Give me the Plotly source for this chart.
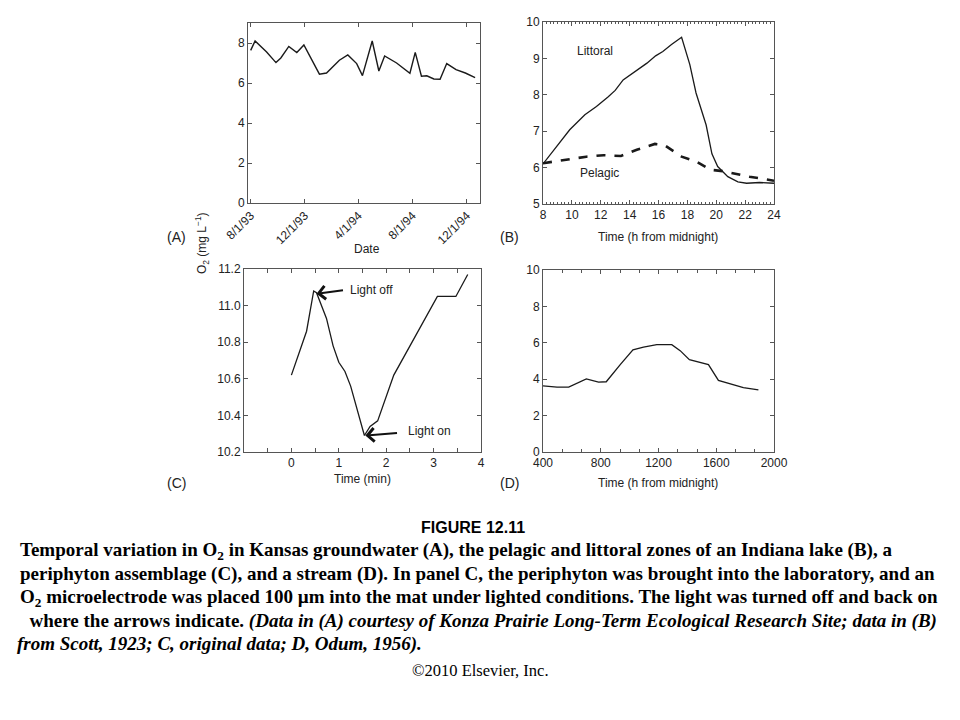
import plotly.graph_objects as go

# ---------------- data ----------------
# Panel A: Kansas groundwater O2
a_dates = ["1993-08-01", "1993-08-11", "1993-09-06", "1993-09-27", "1993-10-08", "1993-10-26",
           "1993-11-13", "1993-11-29", "1994-01-03", "1994-01-19", "1994-02-17", "1994-03-08",
           "1994-03-28", "1994-04-10", "1994-05-02", "1994-05-17", "1994-05-30", "1994-06-26",
           "1994-07-26", "1994-08-07", "1994-08-21", "1994-09-02", "1994-09-18", "1994-10-02",
           "1994-10-17", "1994-11-07", "1994-11-28", "1994-12-20"]
a_o2 = [7.63, 8.10, 7.55, 7.02, 7.25, 7.83, 7.52, 7.90, 6.44, 6.50, 7.14, 7.40,
        6.97, 6.37, 8.10, 6.60, 7.35, 7.00, 6.49, 7.53, 6.34, 6.36, 6.20, 6.19,
        6.97, 6.67, 6.50, 6.27]
a_tickvals = ["1993-08-01", "1993-12-01", "1994-04-01", "1994-08-01", "1994-12-01"]
a_ticktext = ["8/1/93", "12/1/93", "4/1/94", "8/1/94", "12/1/94"]

# Panel B: Indiana lake
b_lit_t = [8.0, 8.92, 9.85, 10.9, 11.7, 12.5, 13.0, 13.55, 14.5, 15.2, 15.8, 16.3, 16.9, 17.6,
           18.17, 18.6, 19.3, 19.7, 20.1, 20.8, 21.5, 22.1, 23.0, 24.0]
b_lit_o2 = [6.10, 6.58, 7.04, 7.45, 7.68, 7.94, 8.12, 8.41, 8.67, 8.87, 9.07, 9.19, 9.38, 9.58,
            8.83, 8.05, 7.17, 6.38, 6.03, 5.75, 5.61, 5.57, 5.59, 5.57]
b_pel_t = [8.0, 9.4, 11.0, 12.2, 13.4, 14.5, 15.75, 16.4, 17.6, 18.6, 19.6, 20.5, 22.3, 24.0]
b_pel_o2 = [6.12, 6.21, 6.30, 6.34, 6.32, 6.49, 6.65, 6.62, 6.30, 6.17, 5.94, 5.90, 5.75, 5.64]

# Panel C: periphyton
c_t = [0.0, 0.32, 0.47, 0.53, 0.74, 0.88, 1.0, 1.13, 1.25, 1.54, 1.66, 1.82, 2.16, 2.58,
       2.79, 3.08, 3.47, 3.72]
c_o2 = [10.62, 10.86, 11.08, 11.07, 10.93, 10.78, 10.69, 10.64, 10.56, 10.29, 10.34, 10.37,
        10.62, 10.82, 10.92, 11.05, 11.05, 11.17]

# Panel D: stream
d_t = [400, 497, 578, 700, 785, 838, 935, 1023, 1096, 1188, 1292, 1350, 1414, 1477, 1546,
       1615, 1696, 1788, 1892]
d_o2 = [3.63, 3.56, 3.56, 4.02, 3.84, 3.86, 4.80, 5.61, 5.76, 5.90, 5.90, 5.57, 5.07, 4.94,
        4.80, 3.93, 3.75, 3.54, 3.41]

W, H = 960, 720
OFF = 8  # page body margin


def px(x):
    return (x - OFF) / W


def py(y):
    return 1 - (y - OFF) / H


LINE = "#1a1a1a"
TICKFONT = dict(family="Liberation Sans, Arial", size=12, color="#222")

fig = go.Figure()
fig.add_trace(go.Scatter(x=a_dates, y=a_o2, mode="lines", line=dict(color=LINE, width=1.4),
                         xaxis="x", yaxis="y"))
fig.add_trace(go.Scatter(x=b_lit_t, y=b_lit_o2, mode="lines", line=dict(color=LINE, width=1.3),
                         xaxis="x2", yaxis="y2"))
fig.add_trace(go.Scatter(x=b_pel_t, y=b_pel_o2, mode="lines",
                         line=dict(color=LINE, width=2.6, dash="dash"),
                         xaxis="x2", yaxis="y2"))
fig.add_trace(go.Scatter(x=c_t, y=c_o2, mode="lines", line=dict(color=LINE, width=1.3),
                         xaxis="x3", yaxis="y3"))
fig.add_trace(go.Scatter(x=d_t, y=d_o2, mode="lines", line=dict(color=LINE, width=1.3),
                         xaxis="x4", yaxis="y4"))

base = dict(showline=True, linecolor="#555", linewidth=1, mirror="allticks", ticks="inside",
            ticklen=4, tickcolor="#555", showgrid=False, zeroline=False, tickfont=TICKFONT,
            automargin=False)

fig.update_layout(
    width=W, height=H, margin=dict(l=0, r=0, t=0, b=0, pad=0, autoexpand=False),
    showlegend=False,
    paper_bgcolor="white", plot_bgcolor="white",
    xaxis=dict(base, domain=[px(248), px(480)], anchor="y", type="date",
               range=["1993-07-26", "1994-12-31"], tickvals=a_tickvals, ticktext=a_ticktext,
               tickangle=-45),
    yaxis=dict(base, domain=[py(203), py(23)], anchor="x", range=[0, 9], dtick=2),
    xaxis2=dict(base, domain=[px(543), px(774)], anchor="y2", range=[8, 24], dtick=2,
                minor=dict(dtick=0.25, ticks="inside", ticklen=2, tickcolor="#555")),
    yaxis2=dict(base, domain=[py(204), py(22)], anchor="x2", range=[5, 10], dtick=1),
    xaxis3=dict(base, domain=[px(244), px(481)], anchor="y3", range=[-1, 4],
                tickvals=[0, 1, 2, 3, 4],
                minor=dict(dtick=0.5, tick0=0, ticks="inside", ticklen=4, tickcolor="#555")),
    yaxis3=dict(base, domain=[py(452), py(269)], anchor="x3", range=[10.2, 11.2], dtick=0.2,
                tickformat=".1f"),
    xaxis4=dict(base, domain=[px(543), px(774)], anchor="y4", range=[400, 2000], dtick=400,
                tick0=400,
                minor=dict(dtick=400 / 3, tick0=400, ticks="inside", ticklen=3, tickcolor="#555")),
    yaxis4=dict(base, domain=[py(452), py(270)], anchor="x4", range=[0, 10], dtick=2),
)

ann = []
SANS = "Liberation Sans, Arial"


def text(x, y, t, size=12, family=SANS, xanchor="center", color="#222", angle=0):
    ann.append(dict(x=px(x), y=py(y), xref="paper", yref="paper", text=t, showarrow=False,
                    font=dict(family=family, size=size, color=color), xanchor=xanchor,
                    yanchor="middle", textangle=angle))


# panel labels and axis titles
text(176, 237, "(A)", size=14)
text(509, 237, "(B)", size=14)
text(176, 483, "(C)", size=14)
text(509, 483, "(D)", size=14)
text(367, 249, "Date")
text(658, 237, "Time (h from midnight)")
text(362, 479, "Time (min)")
text(658, 483, "Time (h from midnight)")
text(202, 243, "O<sub>2</sub> (mg L<sup>−1</sup>)", angle=-90)

# in-plot labels
ann.append(dict(x=11.6, y=9.19, xref="x2", yref="y2", text="Littoral", showarrow=False,
                font=dict(family=SANS, size=12, color="#222")))
ann.append(dict(x=11.9, y=5.85, xref="x2", yref="y2", text="Pelagic", showarrow=False,
                font=dict(family=SANS, size=12, color="#222")))
ann.append(dict(x=1.2, y=11.085, xref="x3", yref="y3", text="Light off", showarrow=False,
                xanchor="left", font=dict(family=SANS, size=12, color="#222")))
ann.append(dict(x=2.42, y=10.315, xref="x3", yref="y3", text="Light on", showarrow=False,
                xanchor="left", font=dict(family=SANS, size=12, color="#222")))
ann.append(dict(x=0.53, y=11.065, ax=1.12, ay=11.085, xref="x3", yref="y3", axref="x3",
                ayref="y3", text="", showarrow=True, arrowhead=4, arrowsize=1.3,
                arrowwidth=2, arrowcolor="#111"))
ann.append(dict(x=1.56, y=10.29, ax=2.26, ay=10.305, xref="x3", yref="y3", axref="x3",
                ayref="y3", text="", showarrow=True, arrowhead=4, arrowsize=1.3,
                arrowwidth=2, arrowcolor="#111"))

# caption
SERIF = "Liberation Serif, Times New Roman"
text(473, 527, "<b>FIGURE 12.11</b>", size=16, family=SANS, color="#000")
cap = [
    (18, 551, "<b>Temporal variation in O<sub>2</sub> in Kansas groundwater (A), the pelagic and littoral zones of an Indiana lake (B), a</b>"),
    (18, 574, "<b>periphyton assemblage (C), and a stream (D). In panel C, the periphyton was brought into the laboratory, and an</b>"),
    (18, 598, "<b>O<sub>2</sub> microelectrode was placed 100 µm into the mat under lighted conditions. The light was turned off and back on</b>"),
    (18, 621, "<b>  where the arrows indicate. <i>(Data in (A) courtesy of Konza Prairie Long-Term Ecological Research Site; data in (B)</i></b>"),
    (15, 644, "<b><i>from Scott, 1923; C, original data; D, Odum, 1956).</i></b>"),
]
for x, y, t in cap:
    text(x, y, t, size=19, family=SERIF, xanchor="left", color="#000")
text(480, 670, "©2010 Elsevier, Inc.", size=16.5, family=SERIF, color="#000")

fig.update_layout(annotations=ann)
fig.write_html("out.html")
